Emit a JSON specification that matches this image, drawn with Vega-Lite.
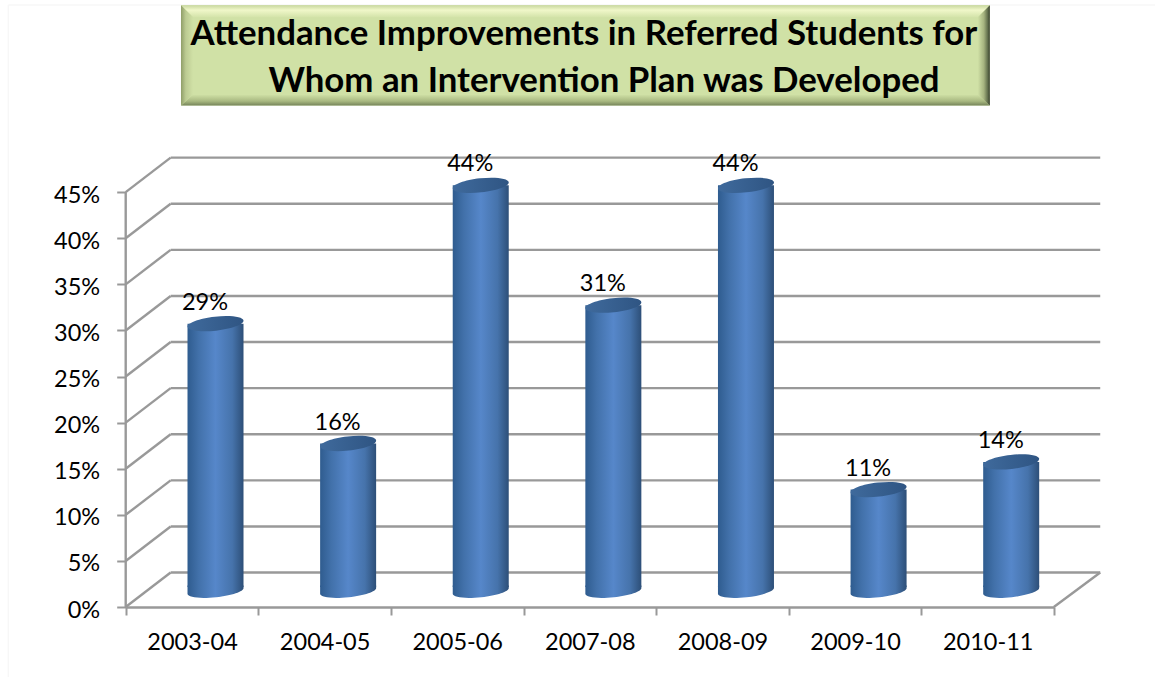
{
"$schema":"https://vega.github.io/schema/vega-lite/v6.json",
"width":1155,"height":677,"padding":0,"autosize":{"type":"none"},"background":"white",
"config":{"view":{"stroke":null},"font":"Lato"},
"datasets":{
"frame":[{"x":-0.885,"x2":-0.885,"y":65.3,"y2":-7.59},{"x":-0.885,"x2":7.763,"y":65.3,"y2":65.3}],
"face":[{"x":0.417,"x2":6.517,"y":65.26,"y2":54.39}],
"bevelTop":[{"x":0.417,"y":65.26,"y2":65.26},{"x":0.508,"y":65.26,"y2":63.96},{"x":6.427,"y":65.26,"y2":63.96},{"x":6.517,"y":65.26,"y2":65.26}],
"bevelBottom":[{"x":0.417,"y":54.39,"y2":54.39},{"x":0.508,"y":54.39,"y2":55.6},{"x":6.427,"y":54.39,"y2":55.6},{"x":6.517,"y":54.39,"y2":54.39}],
"bevelLeft":[{"y":65.26,"x":0.417,"x2":0.417},{"y":63.96,"x":0.417,"x2":0.508},{"y":55.6,"x":0.417,"x2":0.508},{"y":54.39,"x":0.417,"x2":0.417}],
"bevelRight":[{"y":65.26,"x":6.517,"x2":6.517},{"y":63.96,"x":6.517,"x2":6.427},{"y":55.6,"x":6.517,"x2":6.427},{"y":54.39,"x":6.517,"x2":6.517}],
"titleLines":[{"x":3.456,"y":62.05,"t":"Attendance Improvements in Referred Students for"},{"x":3.607,"y":56.95,"t":"Whom an Intervention Plan was Developed"}],
"segments":[
{"x":0.339,"x2":7.35,"y":3.74,"y2":3.74},{"x":0.339,"x2":7.35,"y":8.74,"y2":8.74},{"x":0.339,"x2":7.35,"y":13.74,"y2":13.74},{"x":0.339,"x2":7.35,"y":18.74,"y2":18.74},{"x":0.339,"x2":7.35,"y":23.74,"y2":23.74},{"x":0.339,"x2":7.35,"y":28.74,"y2":28.74},{"x":0.339,"x2":7.35,"y":33.74,"y2":33.74},{"x":0.339,"x2":7.35,"y":38.74,"y2":38.74},{"x":0.339,"x2":7.35,"y":43.74,"y2":43.74},{"x":0.339,"x2":7.35,"y":48.74,"y2":48.74},
{"x":0,"x2":0.339,"y":0,"y2":3.74},{"x":0,"x2":0.339,"y":5,"y2":8.74},{"x":0,"x2":0.339,"y":10,"y2":13.74},{"x":0,"x2":0.339,"y":15,"y2":18.74},{"x":0,"x2":0.339,"y":20,"y2":23.74},{"x":0,"x2":0.339,"y":25,"y2":28.74},{"x":0,"x2":0.339,"y":30,"y2":33.74},{"x":0,"x2":0.339,"y":35,"y2":38.74},{"x":0,"x2":0.339,"y":40,"y2":43.74},{"x":0,"x2":0.339,"y":45,"y2":48.74},
{"x":7,"x2":7.35,"y":0,"y2":3.74},{"x":0,"x2":0,"y":0,"y2":45}],
"bars":[
{"year":"2003-04","y":29,"base":0,"label":"29%"},
{"year":"2004-05","y":16,"base":0,"label":"16%"},
{"year":"2005-06","y":44,"base":0,"label":"44%"},
{"year":"2007-08","y":31,"base":0,"label":"31%"},
{"year":"2008-09","y":44,"base":0,"label":"44%"},
{"year":"2009-10","y":11,"base":0,"label":"11%"},
{"year":"2010-11","y":14,"base":0,"label":"14%"}]
},
"encoding":{"y":{"field":"y","type":"quantitative","scale":{"domain":[-7.59,65.84],"nice":false,"zero":false},
"axis":{"values":[0,5,10,15,20,25,30,35,40,45],"labelExpr":"datum.value+'%'","offset":-125.7,"domain":false,"grid":false,"title":null,"tickColor":"#999999","tickWidth":2,"tickSize":9,"labelPadding":17,"labelFont":"Lato","labelFontSize":23.5,"labelColor":"#000000","labelOffset":3}}},
"layer":[
{"encoding":{"x":{"field":"x","type":"quantitative","scale":{"domain":[-0.948,7.763],"nice":false,"zero":false},"axis":null}},
"layer":[
{"data":{"name":"frame"},"mark":{"type":"rule","stroke":"#f7f7f7","strokeWidth":1.5},"encoding":{"x2":{"field":"x2"},"y2":{"field":"y2"}}},
{"data":{"name":"face"},"mark":{"type":"rect","fill":"#d0e1a6"},"encoding":{"x2":{"field":"x2"},"y2":{"field":"y2"}}},
{"data":{"name":"bevelTop"},"mark":{"type":"area","fill":{"gradient":"linear","x1":0,"y1":0,"x2":0,"y2":1,"stops":[{"offset":0,"color":"#c9d8a0"},{"offset":0.4,"color":"#f0f7c9"},{"offset":1,"color":"#d3e3a9"}]}},"encoding":{"y2":{"field":"y2"}}},
{"data":{"name":"bevelBottom"},"mark":{"type":"area","fill":{"gradient":"linear","x1":0,"y1":0,"x2":0,"y2":1,"stops":[{"offset":0,"color":"#d0e1a6"},{"offset":0.6,"color":"#a9b981"},{"offset":1,"color":"#75845a"}]}},"encoding":{"y2":{"field":"y2"}}},
{"data":{"name":"bevelLeft"},"mark":{"type":"area","fill":{"gradient":"linear","x1":0,"y1":0,"x2":1,"y2":0,"stops":[{"offset":0,"color":"#8f9e68"},{"offset":0.4,"color":"#bccb92"},{"offset":1,"color":"#d0e1a6"}]}},"encoding":{"x2":{"field":"x2"}}},
{"data":{"name":"bevelRight"},"mark":{"type":"area","fill":{"gradient":"linear","x1":0,"y1":0,"x2":1,"y2":0,"stops":[{"offset":0,"color":"#d0e1a6"},{"offset":0.5,"color":"#a5b37f"},{"offset":0.85,"color":"#5d6a49"},{"offset":1,"color":"#333b2a"}]}},"encoding":{"x2":{"field":"x2"}}},
{"data":{"name":"titleLines"},"mark":{"type":"text","font":"Lato","fontWeight":"bold","fontSize":34.8,"fill":"#000000","align":"center","baseline":"middle"},"encoding":{"text":{"field":"t"}}},
{"data":{"name":"segments"},"mark":{"type":"rule","stroke":"#999999","strokeWidth":2.4},"encoding":{"x2":{"field":"x2"},"y2":{"field":"y2"}}}
]},
{"data":{"name":"bars"},
"encoding":{"x":{"field":"year","type":"nominal","sort":null,"scale":{"type":"band","range":[125.7,1054],"paddingInner":0,"paddingOuter":0},
"axis":{"title":null,"orient":"bottom","offset":-70,"tickBand":"extent","labelAngle":0,"domainColor":"#999999","domainWidth":2.4,"tickColor":"#999999","tickWidth":2,"tickSize":8,"labelPadding":15,"labelFont":"Lato","labelFontSize":23.5,"labelColor":"#000000"}}},
"layer":[
{"mark":{"type":"point","filled":true,"opacity":1,"xOffset":23.5,"yOffset":-16,"shape":"M-1,-0.2 L-1,0.11 A1,0.22,-6.3,0,0,1,-0.11 L1,-0.2 Z","size":3136,"fill":{"gradient":"linear","x1":0,"y1":0,"x2":1,"y2":0,"stops":[{"offset":0,"color":"#2f5c8f"},{"offset":0.2,"color":"#4271aa"},{"offset":0.5,"color":"#5687ca"},{"offset":0.8,"color":"#4673ab"},{"offset":1,"color":"#2d4f78"}]}},"encoding":{"y":{"field":"base","type":"quantitative"}}},
{"mark":{"type":"bar","width":56,"xOffset":23.5,"x2Offset":23.5,"yOffset":-16,"y2Offset":-20,"fill":{"gradient":"linear","x1":0,"y1":0,"x2":1,"y2":0,"stops":[{"offset":0,"color":"#2f5c8f"},{"offset":0.2,"color":"#4271aa"},{"offset":0.5,"color":"#5687ca"},{"offset":0.8,"color":"#4673ab"},{"offset":1,"color":"#2d4f78"}]}},"encoding":{"y2":{"field":"base"}}},
{"mark":{"type":"point","filled":true,"opacity":1,"xOffset":23.5,"yOffset":-16,"shape":"M-1,0.11 A1,0.25,-6.3,1,1,1,-0.11 A1,0.25,-6.3,1,1,-1,0.11 Z","size":3136,"fill":{"gradient":"linear","x1":0,"y1":0,"x2":1,"y2":0,"stops":[{"offset":0,"color":"#3f6a9c"},{"offset":1,"color":"#2f5583"}]}}},
{"mark":{"type":"text","font":"Lato","fontSize":23.5,"fill":"#000000","align":"center","baseline":"middle","xOffset":13,"yOffset":-37},"encoding":{"text":{"field":"label"}}}
]}
],
"resolve":{"scale":{"x":"independent"}}
}
